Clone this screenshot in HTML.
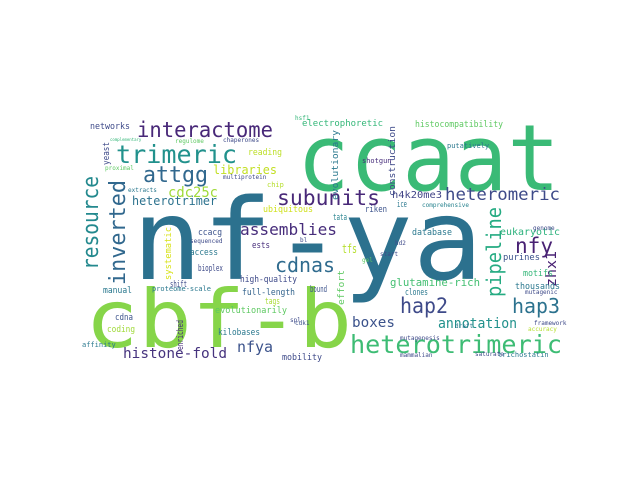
<!DOCTYPE html>
<html><head><meta charset="utf-8"><style>
html,body{margin:0;padding:0;background:#fff;}
svg{display:block}
text{font-family:"DejaVu Sans Mono","Liberation Mono",monospace;}
</style></head><body>
<svg width="640" height="480" viewBox="0 0 640 480" xmlns="http://www.w3.org/2000/svg">
<rect width="640" height="480" fill="#fff"/>
<text x="132" y="279" font-size="112" fill="#2c718e" textLength="351" lengthAdjust="spacingAndGlyphs">nf-ya</text>
<text x="297" y="190" font-size="92" fill="#3aba76" textLength="263" lengthAdjust="spacingAndGlyphs">ccaat</text>
<text x="85" y="347" font-size="80" fill="#86d549" textLength="267" lengthAdjust="spacingAndGlyphs">cbf-b</text>
<text x="350" y="353" font-size="25" fill="#3dbc74" textLength="212" lengthAdjust="spacingAndGlyphs">heterotrimeric</text>
<text x="137" y="137" font-size="21" fill="#482878" textLength="136" lengthAdjust="spacingAndGlyphs">interactome</text>
<text x="116" y="163" font-size="25" fill="#21918c" textLength="121" lengthAdjust="spacingAndGlyphs">trimeric</text>
<text x="143" y="182" font-size="22" fill="#31688e" textLength="65" lengthAdjust="spacingAndGlyphs">attgg</text>
<text transform="translate(98,270) rotate(-90)" font-size="22" fill="#23898e" textLength="94" lengthAdjust="spacingAndGlyphs">resource</text>
<text transform="translate(125,285) rotate(-90)" font-size="22" fill="#31688e" textLength="105" lengthAdjust="spacingAndGlyphs">inverted</text>
<text x="277" y="205" font-size="21" fill="#482878" textLength="103" lengthAdjust="spacingAndGlyphs">subunits</text>
<text x="240" y="235" font-size="16" fill="#472d7b" textLength="97" lengthAdjust="spacingAndGlyphs">assemblies</text>
<text x="275" y="272" font-size="20" fill="#2f6b8e" textLength="60" lengthAdjust="spacingAndGlyphs">cdnas</text>
<text x="445" y="200" font-size="17" fill="#3e4a89" textLength="115" lengthAdjust="spacingAndGlyphs">heteromeric</text>
<text transform="translate(501,297) rotate(-90)" font-size="20" fill="#25ab82" textLength="90" lengthAdjust="spacingAndGlyphs">pipeline</text>
<text x="515" y="253" font-size="21" fill="#482173" textLength="38" lengthAdjust="spacingAndGlyphs">nfy</text>
<text transform="translate(556,287) rotate(-90)" font-size="14" fill="#482173" textLength="36" lengthAdjust="spacingAndGlyphs">zhx1</text>
<text x="400" y="313" font-size="21" fill="#3e4a89" textLength="48" lengthAdjust="spacingAndGlyphs">hap2</text>
<text x="512" y="313" font-size="20" fill="#2c728e" textLength="48" lengthAdjust="spacingAndGlyphs">hap3</text>
<text x="352" y="327" font-size="14" fill="#3b528b" textLength="43" lengthAdjust="spacingAndGlyphs">boxes</text>
<text x="438" y="328" font-size="14" fill="#21918c" textLength="79" lengthAdjust="spacingAndGlyphs">annotation</text>
<text x="237" y="352" font-size="15" fill="#3b528b" textLength="36" lengthAdjust="spacingAndGlyphs">nfya</text>
<text x="123" y="358" font-size="14" fill="#46337e" textLength="104" lengthAdjust="spacingAndGlyphs">histone-fold</text>
<text x="390" y="286" font-size="11" fill="#43bf71" textLength="90" lengthAdjust="spacingAndGlyphs">glutamine-rich</text>
<text x="168" y="197" font-size="14" fill="#a0da39" textLength="50" lengthAdjust="spacingAndGlyphs">cdc25c</text>
<text x="132" y="205" font-size="12" fill="#2c728e" textLength="85" lengthAdjust="spacingAndGlyphs">heterotrimer</text>
<text x="213" y="174" font-size="12" fill="#c2df23" textLength="64" lengthAdjust="spacingAndGlyphs">libraries</text>
<text x="342" y="253" font-size="12" fill="#b5de2b" textLength="15" lengthAdjust="spacingAndGlyphs">tfs</text>
<text x="392" y="198" font-size="10" fill="#414487" textLength="50" lengthAdjust="spacingAndGlyphs">h4k20me3</text>
<text x="500" y="235" font-size="10" fill="#2db27d" textLength="60" lengthAdjust="spacingAndGlyphs">eukaryotic</text>
<g font-size="9">
<text x="90" y="129" fill="#3e4a89" textLength="40" lengthAdjust="spacingAndGlyphs">networks</text>
<text x="248" y="155" fill="#bddf26" textLength="34" lengthAdjust="spacingAndGlyphs">reading</text>
<text x="263" y="212" fill="#d0e11c" textLength="50" lengthAdjust="spacingAndGlyphs">ubiquitous</text>
<text x="198" y="235" fill="#3b528b" textLength="24" lengthAdjust="spacingAndGlyphs">ccacg</text>
<text x="252" y="248" fill="#472d7b" textLength="18" lengthAdjust="spacingAndGlyphs">ests</text>
<text x="190" y="255" fill="#2a788e" textLength="28" lengthAdjust="spacingAndGlyphs">access</text>
<text x="198" y="271" fill="#3e4a89" textLength="25" lengthAdjust="spacingAndGlyphs">bioplex</text>
<text x="170" y="287" fill="#3e4a89" textLength="17" lengthAdjust="spacingAndGlyphs">shift</text>
<text x="240" y="282" fill="#3e4a89" textLength="57" lengthAdjust="spacingAndGlyphs">high-quality</text>
<text x="242" y="295" fill="#33638d" textLength="53" lengthAdjust="spacingAndGlyphs">full-length</text>
<text x="103" y="293" fill="#2a788e" textLength="29" lengthAdjust="spacingAndGlyphs">manual</text>
<text x="265" y="304" fill="#a8db34" textLength="15" lengthAdjust="spacingAndGlyphs">tags</text>
<text x="215" y="313" fill="#5ec962" textLength="72" lengthAdjust="spacingAndGlyphs">evolutionarily</text>
<text x="115" y="320" fill="#3b528b" textLength="18" lengthAdjust="spacingAndGlyphs">cdna</text>
<text x="107" y="332" fill="#a0da39" textLength="28" lengthAdjust="spacingAndGlyphs">coding</text>
<text x="218" y="335" fill="#2a788e" textLength="42" lengthAdjust="spacingAndGlyphs">kilobases</text>
<text x="282" y="360" fill="#3e4a89" textLength="40" lengthAdjust="spacingAndGlyphs">mobility</text>
<text x="397" y="207" fill="#2a788e" textLength="10" lengthAdjust="spacingAndGlyphs">ice</text>
<text x="365" y="212" fill="#3b528b" textLength="22" lengthAdjust="spacingAndGlyphs">riken</text>
<text x="333" y="220" fill="#26828e" textLength="14" lengthAdjust="spacingAndGlyphs">tata</text>
<text x="412" y="235" fill="#2a788e" textLength="40" lengthAdjust="spacingAndGlyphs">database</text>
<text x="503" y="260" fill="#3b528b" textLength="37" lengthAdjust="spacingAndGlyphs">purines</text>
<text x="523" y="276" fill="#35b779" textLength="30" lengthAdjust="spacingAndGlyphs">motifs</text>
<text x="515" y="289" fill="#2a788e" textLength="45" lengthAdjust="spacingAndGlyphs">thousands</text>
<text x="405" y="295" fill="#2a788e" textLength="23" lengthAdjust="spacingAndGlyphs">clones</text>
<text x="310" y="292" fill="#3b528b" textLength="17" lengthAdjust="spacingAndGlyphs">bound</text>
<text x="302" y="126" fill="#35b779" textLength="81" lengthAdjust="spacingAndGlyphs">electrophoretic</text>
<text x="415" y="127" fill="#5ec962" textLength="88" lengthAdjust="spacingAndGlyphs">histocompatibility</text>
<text transform="translate(338,200) rotate(-90)" fill="#2a788e" textLength="70" lengthAdjust="spacingAndGlyphs">evolutionary</text>
<text transform="translate(395,196) rotate(-90)" fill="#3e4a89" textLength="70" lengthAdjust="spacingAndGlyphs">construction</text>
<text transform="translate(171,280) rotate(-90)" fill="#d8e219" textLength="53" lengthAdjust="spacingAndGlyphs">systematic</text>
<text transform="translate(344,305) rotate(-90)" fill="#5ec962" textLength="35" lengthAdjust="spacingAndGlyphs">effort</text>
<text transform="translate(109,165) rotate(-90)" fill="#3e4a89" textLength="23" lengthAdjust="spacingAndGlyphs">yeast</text>
<text transform="translate(183,350) rotate(-90)" fill="#472d7b" textLength="30" lengthAdjust="spacingAndGlyphs">enriched</text>
</g>
<g font-size="6" fill="#3e4a89">
<text x="223" y="142">chaperones</text>
<text x="175" y="143" fill="#5ec962">regulome</text>
<text x="110" y="141" fill="#35b779" font-size="4">complementary</text>
<text x="105" y="170" fill="#5ec962">proximal</text>
<text x="128" y="192" fill="#2a788e">extracts</text>
<text x="223" y="179">multiprotein</text>
<text x="267" y="187" fill="#b5de2b" font-size="7">chip</text>
<text x="190" y="243">sequenced</text>
<text x="152" y="291" fill="#2a788e" font-size="7">proteome-scale</text>
<text x="82" y="347" fill="#2a788e" font-size="7">affinity</text>
<text x="422" y="207" fill="#26828e">comprehensive</text>
<text x="447" y="148" fill="#2a788e" font-size="7">putatively</text>
<text x="362" y="163" fill="#472d7b" font-size="7">shotgun</text>
<text x="525" y="294">mutagenic</text>
<text x="534" y="325" fill="#3e4a89">framework</text>
<text x="400" y="340">mutagenesis</text>
<text x="400" y="357">mammalian</text>
<text x="475" y="356">saturate</text>
<text x="498" y="357" fill="#2a788e" font-size="7">trichostatin</text>
<text x="528" y="331" fill="#b5de2b">accuracy</text>
<text x="455" y="328" fill="#2a788e">draft</text>
<text x="380" y="256">start</text>
<text x="395" y="245">hd2</text>
<text x="362" y="262" fill="#5ec962">gel</text>
<text x="300" y="242">bl</text>
<text x="295" y="120" fill="#35b779">hsf1</text>
<text x="295" y="325" fill="#3b528b">cdk1</text>
<text x="290" y="322">spl</text>
<text x="533" y="230">genome</text>
</g>
</svg>
</body></html>
